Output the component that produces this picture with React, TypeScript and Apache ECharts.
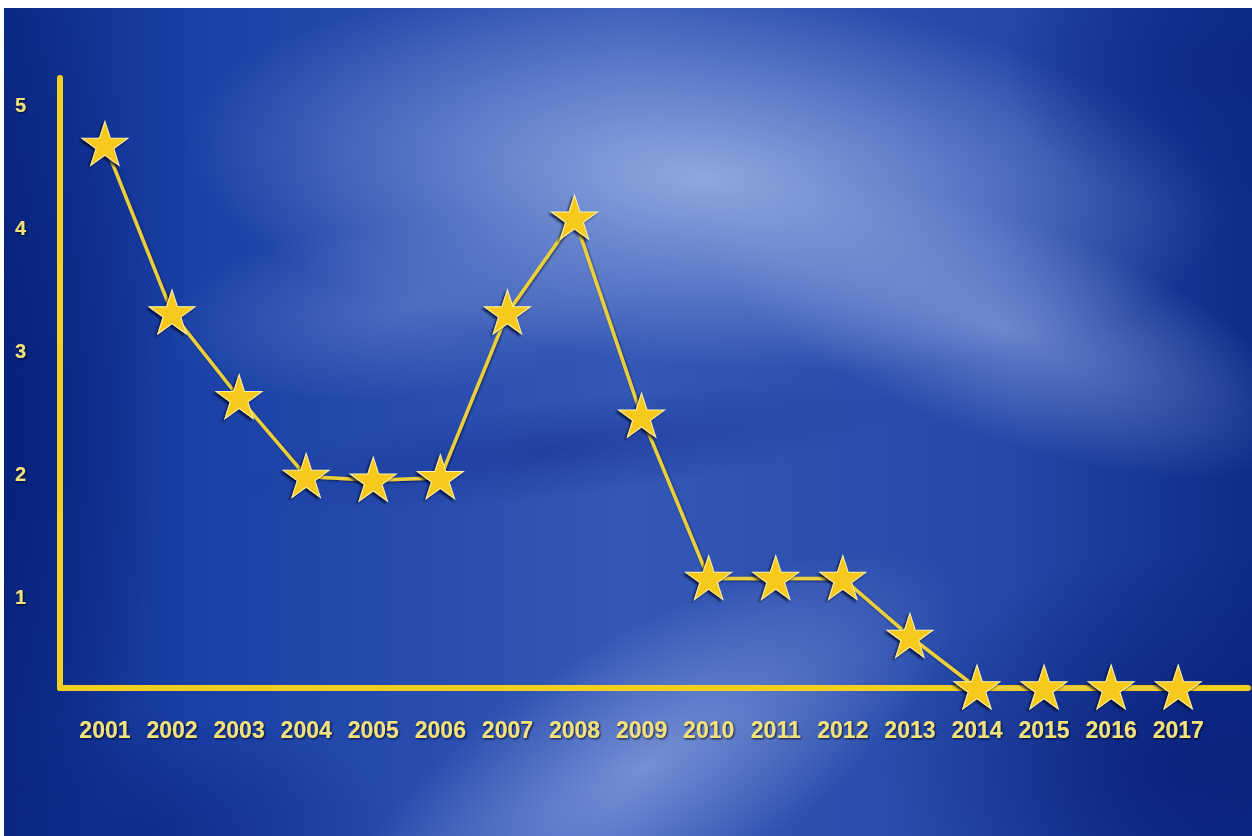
import React, { useEffect, useRef } from "react";
import * as echarts from "echarts";

const years: number[] = [2001, 2002, 2003, 2004, 2005, 2006, 2007, 2008, 2009, 2010, 2011, 2012, 2013, 2014, 2015, 2016, 2017];
const rates: number[] = [4.68, 3.31, 2.62, 1.98, 1.95, 1.97, 3.31, 4.08, 2.47, 1.15, 1.15, 1.15, 0.68, 0.26, 0.26, 0.26, 0.26];
const yTicks: number[] = [1, 2, 3, 4, 5];

const STAR = "path://M50 0 L61.23 34.55 L97.55 34.55 L68.17 55.9 L79.39 90.45 L50 69.1 L20.61 90.45 L31.83 55.9 L2.45 34.55 L38.77 34.55 Z";

const LABEL_COLOR = "#f2e27e";
const AXIS_COLOR = "#f3cf1f";

function blob(x: number, y: number, sx: number, sy: number, rot: number, color: string) {
  return {
    type: "circle",
    x,
    y,
    scaleX: sx,
    scaleY: sy,
    rotation: rot,
    silent: true,
    shape: { cx: 0, cy: 0, r: 100 },
    style: {
      fill: {
        type: "radial",
        x: 0.5,
        y: 0.5,
        r: 0.5,
        colorStops: [
          { offset: 0, color },
          { offset: 1, color: color.replace(/[\d.]+\)$/, "0)") },
        ],
      },
    },
  };
}

export default function App() {
  const ref = useRef<HTMLDivElement>(null);
  useEffect(() => {
    if (!ref.current) return;
    const chart = echarts.init(ref.current, null, { renderer: "svg" });
    const labelCommon = {
      color: LABEL_COLOR,
      fontWeight: "bold",
      fontFamily: "Liberation Sans, Arial, sans-serif",
      textShadowColor: "rgba(0,0,20,0.85)",
      textShadowBlur: 2,
      textShadowOffsetX: 1,
      textShadowOffsetY: 1,
    };
    const option = {
      animation: false,
      backgroundColor: "#1a3c9c",
      graphic: {
        z: -100,
        elements: [
          {
            type: "rect",
            silent: true,
            shape: { x: 0, y: 0, width: 1248, height: 828 },
            style: {
              fill: {
                type: "linear",
                x: 0,
                y: 0,
                x2: 1,
                y2: 0,
                colorStops: [
                  { offset: 0, color: "#0a2a86" },
                  { offset: 0.15, color: "#1a40a6" },
                  { offset: 0.5, color: "#3458b6" },
                  { offset: 0.8, color: "#2448aa" },
                  { offset: 1, color: "#0c2c88" },
                ],
              },
            },
          },
          blob(700, 170, 5.2, 1.9, -0.08, "rgba(175,195,238,0.75)"),
          blob(1000, 320, 3.2, 1.1, -0.35, "rgba(160,180,230,0.55)"),
          blob(640, 760, 3.6, 1.3, 0.55, "rgba(160,180,232,0.6)"),
          blob(400, 300, 2.4, 0.9, 0.1, "rgba(130,155,220,0.4)"),
          blob(560, 440, 3.4, 0.5, 0.12, "rgba(15,40,140,0.45)"),
          blob(1180, 760, 3.0, 2.2, 0, "rgba(8,30,120,0.8)"),
          blob(1200, 60, 2.0, 1.4, 0, "rgba(10,35,130,0.55)"),
          blob(0, 420, 1.6, 5.0, 0, "rgba(6,30,120,0.75)"),
          blob(150, 820, 2.5, 1.2, 0, "rgba(8,32,125,0.55)"),
        ],
      },
      grid: { left: 56, right: 4, top: 70, bottom: 148, z: 4 },
      xAxis: {
        type: "value",
        z: 4,
        min: 2000.33,
        max: 2018.04,
        splitLine: { show: false },
        axisTick: { show: false },
        axisLine: { show: true, onZero: false, lineStyle: { color: AXIS_COLOR, width: 6 } },
        axisLabel: {
          ...labelCommon,
          customValues: years,
          formatter: (v: number) => String(v),
          fontSize: 23,
          margin: 30,
        },
      },
      yAxis: {
        type: "value",
        z: 4,
        min: 0.26,
        max: 5.22,
        splitLine: { show: false },
        axisTick: { show: false },
        axisLine: { show: true, onZero: false, lineStyle: { color: AXIS_COLOR, width: 6 } },
        axisLabel: {
          ...labelCommon,
          customValues: yTicks,
          fontSize: 20,
          margin: 34,
        },
      },
      series: [
        {
          type: "line",
          data: years.map((y, i) => [y, rates[i]]),
          symbol: STAR,
          symbolSize: [46, 44],
          symbolOffset: [0, -1],
          showAllSymbol: true,
          z: 5,
          lineStyle: { color: "#ecd03a", width: 3.5, shadowColor: "rgba(0,0,30,0.6)", shadowBlur: 2, shadowOffsetX: 1, shadowOffsetY: 1 },
          itemStyle: {
            color: "#f7c91c",
            borderColor: "#fff3a6",
            borderWidth: 1,
            opacity: 1,
            shadowColor: "rgba(0,0,30,0.75)",
            shadowBlur: 2,
            shadowOffsetX: -2,
            shadowOffsetY: 2,
          },
        },
      ],
    };
    chart.setOption(option as any);
    return () => chart.dispose();
  }, []);
  return <div ref={ref} style={{ position: "absolute", left: 4, top: 8, width: 1248, height: 828 }} />;
}
